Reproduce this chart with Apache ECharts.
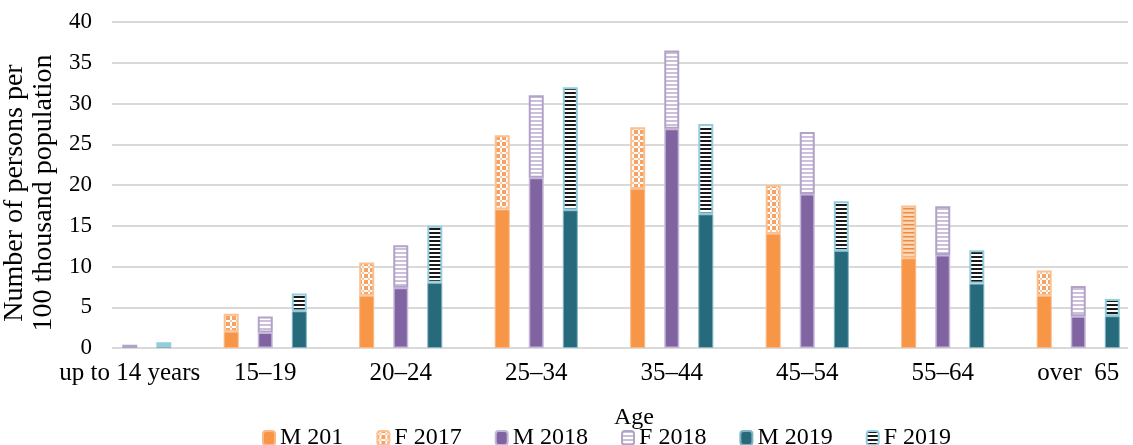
<!DOCTYPE html>
<html>
<head>
<meta charset="utf-8">
<script src="https://cdn.jsdelivr.net/npm/echarts@6/dist/echarts.min.js"></script>
<style>
  html, body { margin: 0; padding: 0; background: #fff; }
  #chart { width: 1133px; height: 445px; }
</style>
</head>
<body>
<div id="chart"></div>
<script>
const categories = ['up to 14 years', '15–19', '20–24', '25–34', '35–44', '45–54', '55–64', 'over  65']
const yTicks = [0, 5, 10, 15, 20, 25, 30, 35, 40]

// M = lower part of each column, F = part stacked on top
const m2017 = [0, 2.0, 6.4, 17.0, 19.5, 14.0, 11.0, 6.4]
const f2017 = [0, 2.2, 4.1, 9.1, 7.6, 6.0, 6.5, 3.1]
const m2018 = [0, 1.9, 7.4, 20.9, 26.9, 18.9, 11.4, 3.9]
const f2018 = [0.4, 1.95, 5.2, 10.1, 9.6, 7.6, 6.0, 3.7]
const m2019 = [0.2, 4.5, 8.0, 16.9, 16.4, 11.9, 7.9, 3.9]
const f2019 = [0.5, 2.2, 7.0, 15.1, 11.1, 6.1, 4.1, 2.1]

const FONT = "'Liberation Serif', 'Times New Roman', serif"

// small canvas tiles used as fill patterns
function tile (w, h, draw) {
  const c = document.createElement('canvas')
  c.width = w
  c.height = h
  draw(c.getContext('2d'))
  return { image: c, repeat: 'repeat' }
}

const crossOrange = tile(6, 6, ctx => {
  ctx.fillStyle = '#f7a264'
  ctx.fillRect(0, 0, 6, 6)
  ctx.fillStyle = '#ffffff'
  ctx.fillRect(2, 0, 2, 6)
  ctx.fillRect(0, 2, 6, 2)
  ctx.fillStyle = '#f8c9a4'
  ctx.fillRect(2, 2, 2, 2)
})
const stripeOrange = tile(4, 4, ctx => {
  ctx.fillStyle = '#fcd9bd'
  ctx.fillRect(0, 0, 4, 4)
  ctx.fillStyle = '#f08a3c'
  ctx.fillRect(0, 0, 4, 1.5)
})
const stripePurple = tile(4, 4, ctx => {
  ctx.fillStyle = '#ffffff'
  ctx.fillRect(0, 0, 4, 4)
  ctx.fillStyle = '#cbbfdc'
  ctx.fillRect(0, 0, 4, 2)
})
const stripeBlack = tile(4, 4, ctx => {
  ctx.fillStyle = '#ffffff'
  ctx.fillRect(0, 0, 4, 4)
  ctx.fillStyle = '#1a1a1a'
  ctx.fillRect(0, 0, 4, 2)
})

// zero values draw no column at all
const bars = arr => arr.map(v => (v === 0 ? null : v))

const barBase = {
  type: 'bar',
  xAxisIndex: 1,
  yAxisIndex: 1,
  barWidth: 15,
  barGap: '127%'
}

const chart = echarts.init(document.getElementById('chart'))

const option = {
  animation: false,
  textStyle: { fontFamily: FONT, color: '#000' },
  grid: [
    { left: 112, right: 5, top: 22, bottom: 97, outerBoundsMode: 'none' },
    { left: 62, width: 1084, top: 22, bottom: 97, outerBoundsMode: 'none' }
  ],
  legend: {
    left: 257,
    top: 421,
    itemWidth: 12,
    itemHeight: 14,
    itemGap: 33,
    textStyle: { fontFamily: FONT, fontSize: 24, color: '#000' },
    data: ['M 201', 'F 2017', 'M 2018', 'F 2018', 'M 2019', 'F 2019']
  },
  xAxis: [
    {
      type: 'category',
      gridIndex: 0,
      data: categories,
      axisLine: { show: false },
      axisTick: { show: false },
      axisLabel: { show: false },
      name: 'Age',
      nameLocation: 'middle',
      nameGap: 58,
      nameTextStyle: { fontFamily: FONT, fontSize: 24, color: '#000', padding: [0, 0, 0, 28] }
    },
    {
      type: 'category',
      gridIndex: 1,
      data: categories,
      axisLine: { show: false },
      axisTick: { show: false },
      axisLabel: { fontFamily: FONT, fontSize: 25, color: '#000', margin: 13, interval: 0 }
    }
  ],
  yAxis: [
    {
      type: 'value',
      gridIndex: 0,
      min: yTicks[0],
      max: yTicks[yTicks.length - 1],
      interval: 5,
      axisLine: { show: false },
      axisTick: { show: false },
      axisLabel: { fontFamily: FONT, fontSize: 23, color: '#000', margin: 20 },
      splitLine: { lineStyle: { color: '#d9d9d9', width: 2 } },
      name: 'Number of persons per\n100 thousand population',
      nameLocation: 'middle',
      nameGap: 37,
      nameTextStyle: { fontFamily: FONT, fontSize: 28, lineHeight: 29, color: '#000', padding: [0, 16, 0, 0] }
    },
    {
      type: 'value',
      gridIndex: 1,
      min: yTicks[0],
      max: yTicks[yTicks.length - 1],
      interval: 5,
      show: false,
      splitLine: { show: false }
    }
  ],
  series: [
    {
      ...barBase,
      name: 'M 201',
      stack: 's2017',
      data: bars(m2017),
      itemStyle: { color: '#f79646', borderColor: '#fbb784', borderWidth: 1 }
    },
    {
      ...barBase,
      name: 'F 2017',
      stack: 's2017',
      data: bars(f2017).map((v, i) => i === 6 ? { value: v, itemStyle: { color: stripeOrange } } : v),
      itemStyle: { color: crossOrange, borderColor: '#fac090', borderWidth: 2 }
    },
    {
      ...barBase,
      name: 'M 2018',
      stack: 's2018',
      data: bars(m2018),
      itemStyle: { color: '#8064a2', borderColor: '#c4b6d8', borderWidth: 1.5 }
    },
    {
      ...barBase,
      name: 'F 2018',
      stack: 's2018',
      data: bars(f2018),
      itemStyle: { color: stripePurple, borderColor: '#b3a2c7', borderWidth: 2 }
    },
    {
      ...barBase,
      name: 'M 2019',
      stack: 's2019',
      data: bars(m2019),
      itemStyle: { color: '#266a7b', borderColor: '#7fb3c2', borderWidth: 1 }
    },
    {
      ...barBase,
      name: 'F 2019',
      stack: 's2019',
      data: bars(f2019),
      itemStyle: { color: stripeBlack, borderColor: '#93cddd', borderWidth: 2 }
    }
  ]
}

chart.setOption(option)
window.addEventListener('resize', () => chart.resize())
</script>
</body>
</html>
